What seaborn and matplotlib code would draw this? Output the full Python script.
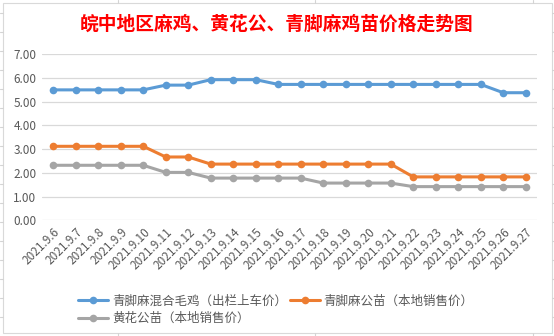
import matplotlib
matplotlib.use("Agg")
import matplotlib.pyplot as plt
import matplotlib.lines as mlines
import matplotlib.patches as mpatches
import seaborn as sns
import pandas as pd

dates = ["2021.9.6", "2021.9.7", "2021.9.8", "2021.9.9", "2021.9.10", "2021.9.11",
         "2021.9.12", "2021.9.13", "2021.9.14", "2021.9.15", "2021.9.16", "2021.9.17",
         "2021.9.18", "2021.9.19", "2021.9.20", "2021.9.21", "2021.9.22", "2021.9.23",
         "2021.9.24", "2021.9.25", "2021.9.26", "2021.9.27"]
blue_vals = [5.5, 5.5, 5.5, 5.5, 5.5, 5.7, 5.7, 5.93, 5.93, 5.93, 5.73, 5.73,
             5.73, 5.73, 5.73, 5.73, 5.73, 5.73, 5.73, 5.73, 5.38, 5.38]
orange_vals = [3.12, 3.12, 3.12, 3.12, 3.12, 2.67, 2.67, 2.37, 2.37, 2.37, 2.37, 2.37,
               2.37, 2.37, 2.37, 2.37, 1.83, 1.83, 1.83, 1.83, 1.83, 1.83]
gray_vals = [2.32, 2.32, 2.32, 2.32, 2.32, 2.02, 2.02, 1.78, 1.78, 1.78, 1.78, 1.78,
             1.57, 1.57, 1.57, 1.57, 1.42, 1.42, 1.42, 1.42, 1.42, 1.42]
series_names = ["青脚麻混合毛鸡（出栏上车价）", "青脚麻公苗（本地销售价）", "黄花公苗（本地销售价）"]
colors = ["#5B9BD5", "#ED7D31", "#A5A5A5"]
title = "皖中地区麻鸡、黄花公、青脚麻鸡苗价格走势图"
yticks = [0, 1, 2, 3, 4, 5, 6, 7]

rows = []
for name, vals in zip(series_names, [blue_vals, orange_vals, gray_vals]):
    for i, (d, v) in enumerate(zip(dates, vals)):
        rows.append({"idx": i, "date": d, "price": v, "series": name})
df = pd.DataFrame(rows)

sns.set_theme(style="white")
plt.rcParams["font.family"] = ["Noto Sans CJK SC", "DejaVu Sans"]

W, H = 554, 336
fig = plt.figure(figsize=(W / 100, H / 100), dpi=100)
fig.patch.set_facecolor("white")

# spreadsheet cell lines behind the chart
cell = "#D4D4D4"
for y in range(13, 336, 19):
    fig.add_artist(mlines.Line2D([0, 3 / W], [1 - y / H] * 2, color=cell, lw=0.8))
    fig.add_artist(mlines.Line2D([552 / W, 1], [1 - y / H] * 2, color=cell, lw=0.8))
for x in [118, 315, 533]:
    fig.add_artist(mlines.Line2D([x / W] * 2, [1, 1 - 3 / H], color=cell, lw=0.8))
    fig.add_artist(mlines.Line2D([x / W] * 2, [1 - 333 / H, 0], color=cell, lw=0.8))
# chart area border
fig.add_artist(mpatches.Rectangle((3 / W, 3 / H), 549 / W, 330 / H, fill=False,
                                  edgecolor="#D9D9D9", lw=0.8))

ax = fig.add_axes([42 / W, 1 - 220.3 / H, 495 / W, 166 / H])
sns.lineplot(data=df, x="idx", y="price", hue="series", palette=colors,
             hue_order=series_names, marker="o", markersize=5.5, markeredgewidth=0,
             linewidth=2.2, ax=ax, legend=False)

ax.set_xlim(-0.5, len(dates) - 0.5)
ax.set_ylim(0, 7)
ax.set_yticks(yticks)
ax.set_yticklabels([f"{v:.2f}" for v in yticks], fontsize=8.5, color="#595959")
ax.set_xticks(range(len(dates)))
ax.set_xticklabels(dates, rotation=45, ha="right", rotation_mode="anchor",
                   fontsize=8.5, color="#595959")
ax.tick_params(axis="both", length=0, pad=4)
ax.grid(axis="y", color="#D9D9D9", lw=0.9)
ax.set_axisbelow(True)
for s in ax.spines.values():
    s.set_visible(False)
ax.set_xlabel("")
ax.set_ylabel("")

fig.text(277 / W, 1 - 24 / H, title, ha="center", va="center", color="#FF0000",
         fontsize=13.5, fontweight="bold")

handles = [mlines.Line2D([], [], color=c, lw=2.2, marker="o", markersize=5.5,
                         markeredgewidth=0) for c in colors]
order = [0, 2, 1]
leg = fig.legend([handles[i] for i in order], [series_names[i] for i in order],
                 ncol=2, loc="center left", bbox_to_anchor=(72 / W, 1 - 310 / H),
                 frameon=False, fontsize=9, handlelength=2.4, handletextpad=0.3,
                 columnspacing=0.2, labelspacing=0.35, borderpad=0)
for t in leg.get_texts():
    t.set_color("#595959")

fig.savefig("out.png", dpi=100, facecolor="white")
